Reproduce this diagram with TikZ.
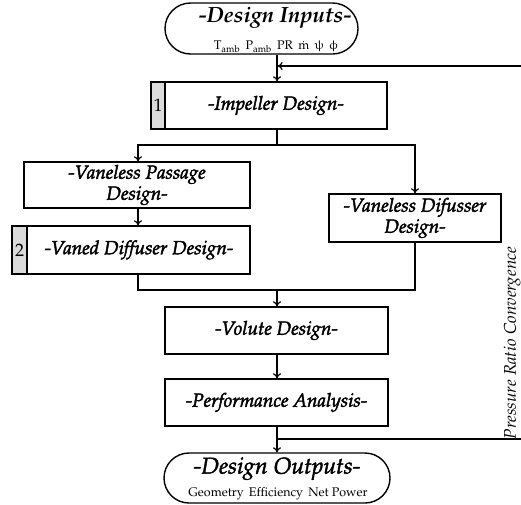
\documentclass[tikz,border=0pt]{standalone}
\usepackage[T1]{fontenc}
\usepackage{mathpazo}
\usepackage{upgreek}
\usetikzlibrary{arrows.meta,shapes.misc,positioning}
\newcommand\myheavy[1]{\special{pdf:literal direct 2 Tr 0.45 w}#1\special{pdf:literal direct 0 Tr}}
\tikzset{
  boxfont/.style={font=\fontsize{19}{21}\selectfont\itshape},
  box/.style={draw, line width=1.4pt, rectangle, inner sep=0pt, align=center, boxfont},
  term/.style={draw, line width=1.4pt, rounded rectangle, inner sep=0pt, align=center},
  lbl/.style={inner sep=0.5pt},
  strip/.style={draw, line width=1.4pt, fill=gray!28, inner sep=0pt, font=\fontsize{18}{20}\selectfont},
  conn/.style={line width=1.2pt},
  arr/.style={line width=1.2pt, -{To[length=5pt,width=8pt]}},
}
\begin{document}
\begin{tikzpicture}[x=1pt,y=-1pt]
\useasboundingbox (0,0) rectangle (521,504);
% terminals
\node[term, minimum width=193pt, minimum height=51pt] (inputs) at (261.5,28.5) {};
\node[lbl] (inT) at (275,18) {\fontsize{22}{24}\selectfont\itshape\bfseries -Design Inputs-};
\node[lbl] (inS) at (276,46.5) {\fontsize{12.5}{14}\selectfont T\textsubscript{amb}\, P\textsubscript{amb}\, PR\, \.m\, $\uppsi$\, $\upphi$};
\node[term, minimum width=226pt, minimum height=50pt] (outputs) at (277,478) {};
\node[lbl] (outT) at (277,468.5) {\fontsize{23}{25}\selectfont\itshape\myheavy{-Design Outputs-}};
\node[lbl] (outS) at (278,494) {\fontsize{12.5}{14}\selectfont Geometry\, Efficiency\, Net Power};
% boxes
\node[box, minimum width=236pt, minimum height=47pt] (imp) at (269,105.5) {};
\node[strip, minimum width=14pt, minimum height=47pt, anchor=west] (s1) at (imp.west) {1};
\node[lbl, boxfont] (impT) at (276,105.5) {\myheavy{-Impeller Design-}};
\node[box, minimum width=226pt, minimum height=46pt] (pass) at (137,185) {\myheavy{-Vaneless Passage}\\\myheavy{Design-}};
\node[box, minimum width=238pt, minimum height=48pt] (vaned) at (131,250) {};
\node[strip, minimum width=15pt, minimum height=48pt, anchor=west] (s2) at (vaned.west) {2};
\node[lbl, boxfont] (vanedT) at (139,250) {\myheavy{-Vaned Diffuser Design-}};
\node[box, minimum width=172pt, minimum height=48pt] (dif) at (415,218) {\myheavy{-Vaneless Difusser}\\\myheavy{Design-}};
\node[box, minimum width=223pt, minimum height=47pt] (vol) at (276.5,330.5) {\myheavy{-Volute Design-}};
\node[box, minimum width=223pt, minimum height=47pt] (perf) at (276.5,402.5) {\myheavy{-Performance Analysis-}};
% junction coordinates
\coordinate (jA) at (277,145);
\coordinate (jAL) at (138,145);
\coordinate (jAR) at (415,145);
\coordinate (jB) at (277,290);
\coordinate (jBL) at (138,290);
\coordinate (jBR) at (415,290);
\coordinate (jC) at (277,439);
\coordinate (jD) at (277,66);
\coordinate (fbB) at (540,439);
\coordinate (fbT) at (540,66);
% connectors
\draw[arr] (inputs.south -| jD) -- (imp.north -| jD);
\draw[conn] (imp.south -| jA) -- (jA);
\draw[arr] (jA) -- (jAL) -- (pass.north -| jAL);
\draw[arr] (jA) -- (jAR) -- (dif.north -| jAR);
\draw[arr] (pass.south -| jAL) -- (vaned.north -| jAL);
\draw[conn] (vaned.south -| jBL) -- (jBL) -- (jBR) -- (dif.south -| jBR);
\draw[arr] (jB) -- (vol.north -| jB);
\draw[arr] (vol.south -| jB) -- (perf.north -| jB);
\draw[arr] (perf.south -| jC) -- (outputs.north -| jC);
\draw[arr] (jC) -- (fbB) -- (fbT) -- ([xshift=0.6pt]jD);
\node[rotate=90, font=\fontsize{17}{19}\selectfont\itshape] (conv) at (512,343) {Pressure Ratio Convergence};
\end{tikzpicture}
\end{document}
